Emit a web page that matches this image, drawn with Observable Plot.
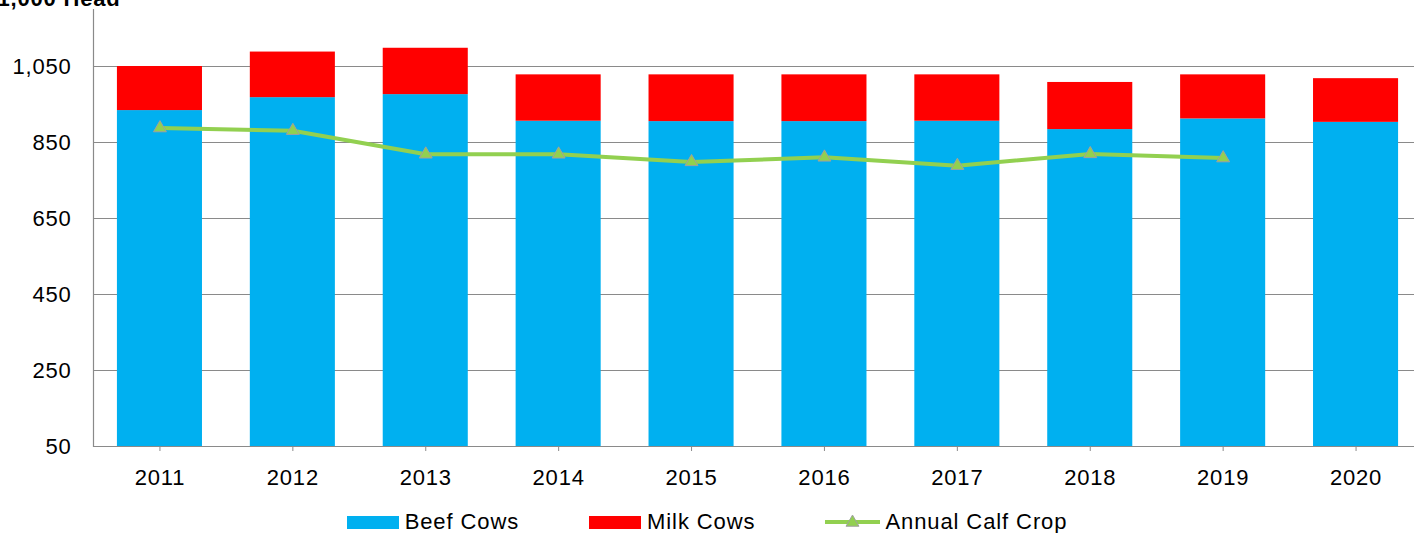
<!DOCTYPE html>
<html>
<head>
<meta charset="utf-8">
<script src="https://cdn.jsdelivr.net/npm/d3@7"></script>
<script src="https://cdn.jsdelivr.net/npm/@observablehq/plot@0.6"></script>
<style>
  html, body { margin: 0; padding: 0; background: #fff; overflow: hidden; }
  body { width: 1414px; height: 533px; font-family: "Liberation Sans", Arial, sans-serif; }
  #chart svg text { letter-spacing: 0.8px; }
  #legend { display: flex; justify-content: center; align-items: center; height: 22px; margin-top: 11px; font-size: 22px; letter-spacing: 0.9px; color: #000; }
  .item { display: flex; align-items: center; margin: 0 35px; }
  .sw { width: 52px; height: 13px; margin-right: 6px; }
</style>
</head>
<body>
<div id="chart"></div>
<div id="legend"></div>
<script>
const years = ["2011","2012","2013","2014","2015","2016","2017","2018","2019","2020"];
const beefCows = [934, 968, 976, 906, 905, 905, 906, 884, 912, 903];
const milkCows = [116, 120, 122, 122, 123, 123, 122, 124, 116, 115];
const calfYears = ["2011","2012","2013","2014","2015","2016","2017","2018","2019"];
const calfCrop = [888, 881, 819, 819, 799, 811, 789, 820, 809];
const yTicks = [50, 250, 450, 650, 850, 1050];
const axisTitle = "1,000 Head";
const seriesNames = ["Beef Cows", "Milk Cows", "Annual Calf Crop"];
const colors = { beef: "#00B0F0", milk: "#FF0000", calf: "#92D050" };

const bars = years.map((y, i) => ({ year: y, beef: beefCows[i], total: beefCows[i] + milkCows[i] }));
const calf = calfYears.map((y, i) => ({ year: y, value: calfCrop[i] }));

const chart = Plot.plot({
  width: 1414,
  height: 500,
  marginLeft: 93,
  marginRight: 0,
  marginTop: 9,
  marginBottom: 54,
  style: { fontFamily: '"Liberation Sans", Arial, sans-serif', fontSize: "22px", color: "#000", background: "#fff" },
  x: { domain: years, range: [93, 1422], round: false, paddingInner: 0.36, paddingOuter: 0.18, label: null },
  y: { domain: [50, 1200], label: null },
  marks: [
    Plot.gridY(yTicks, { stroke: "#8a8a8a", strokeOpacity: 1, strokeWidth: 1.2 }),
    Plot.barY(bars, { x: "year", y: "beef", fill: colors.beef, clip: true }),
    Plot.barY(bars, { x: "year", y1: "beef", y2: "total", fill: colors.milk }),
    Plot.ruleY([50], { stroke: "#8a8a8a", strokeWidth: 1.2 }),
    Plot.frame({ anchor: "left", stroke: "#8a8a8a", strokeWidth: 1.2 }),
    Plot.axisY(yTicks, { tickSize: 0, tickPadding: 22, tickFormat: d3.format(","), label: null, fontSize: 22 }),
    Plot.axisX({ tickSize: 5, tickPadding: 18, stroke: "#8a8a8a", label: null, fontSize: 22 }),
    Plot.line(calf, { x: "year", y: "value", stroke: colors.calf, strokeWidth: 4 }),
    Plot.dot(calf, { x: "year", y: "value", symbol: "triangle", r: 4.8, fill: colors.calf, stroke: "#a0a0a0", strokeWidth: 1 }),
    Plot.text([axisTitle], { frameAnchor: "top-left", textAnchor: "start", lineAnchor: "bottom", dx: -96, dy: -4, fontWeight: "bold", fontSize: 22 })
  ]
});
document.getElementById("chart").appendChild(chart);

const legend = document.getElementById("legend");
const legendColors = [colors.beef, colors.milk];
seriesNames.forEach((name, i) => {
  const item = document.createElement("div");
  item.className = "item";
  if (i < 2) {
    const sw = document.createElement("div");
    sw.className = "sw";
    sw.style.background = legendColors[i];
    item.appendChild(sw);
  } else {
    const ns = "http://www.w3.org/2000/svg";
    const svg = document.createElementNS(ns, "svg");
    svg.setAttribute("width", 55); svg.setAttribute("height", 14);
    svg.style.marginRight = "5px";
    const ln = document.createElementNS(ns, "line");
    ln.setAttribute("x1", 0); ln.setAttribute("x2", 55); ln.setAttribute("y1", 7); ln.setAttribute("y2", 7);
    ln.setAttribute("stroke", colors.calf); ln.setAttribute("stroke-width", 4);
    svg.appendChild(ln);
    const tri = document.createElementNS(ns, "path");
    tri.setAttribute("d", d3.symbol(d3.symbolTriangle, 4.8 * 4.8 * Math.PI)());
    tri.setAttribute("transform", "translate(27.5,7.5)");
    tri.setAttribute("fill", colors.calf); tri.setAttribute("stroke", "#a0a0a0");
    svg.appendChild(tri);
    item.appendChild(svg);
  }
  const t = document.createElement("span");
  t.textContent = name;
  item.appendChild(t);
  legend.appendChild(item);
});
</script>
</body>
</html>
